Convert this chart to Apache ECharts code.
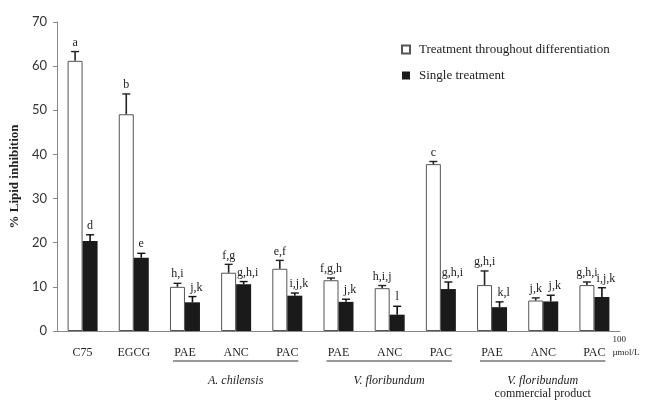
<!DOCTYPE html>
<html><head><meta charset="utf-8">
<script src="https://cdn.jsdelivr.net/npm/echarts@6/dist/echarts.min.js"></script>
<style>html,body{margin:0;padding:0;background:#fff}#c{width:651px;height:400px}</style>
</head><body><div id="c"></div>
<script>
const categories = ['C75','EGCG','PAE','ANC','PAC','PAE','ANC','PAC','PAE','ANC','PAC'];
const throughoutValues = [61.2,49.1,10.0,13.2,14.1,11.5,9.7,37.8,10.4,6.9,10.4];
const throughoutErrors = [2.1,4.6,0.8,1.9,1.9,0.5,0.6,0.6,3.2,0.6,0.7];
const throughoutLetters = ['a','b','h,i','f,g','e,f','f,g,h','h,i,j','c','g,h,i','j,k','g,h,i'];
const singleValues = [20.4,16.6,6.5,10.6,8.0,6.6,3.7,9.5,5.4,6.7,7.7];
const singleErrors = [1.4,1.0,1.3,0.6,0.6,0.6,1.9,1.6,1.2,1.4,2.1];
const singleLetters = ['d','e','j,k','g,h,i','i,j,k','j,k','l','g,h,i','k,l','j,k','i,j,k'];
const seriesNames = ['Treatment throughout differentiation','Single treatment'];
const groupNames = [['A. chilensis'],['V. floribundum'],['V. floribundum','commercial product']];
const groupFirst = [2,5,8];
const groupLast = [4,7,10];
const yMin = 0, yMax = 70, yStep = 10;
const unitLabel = ['100','\u00b5mol/L'];

const SERIF = '"Liberation Serif","DejaVu Serif",serif';
const BARW = 15;
const chart = echarts.init(document.getElementById('c'));

function errSeries(values, errors, letters, sign, color, dx) {
  return {
    type: 'custom',
    z: 5,
    silent: true,
    data: values.map((v, i) => [i, v, errors[i]]),
    renderItem: function (params, api) {
      const i = api.value(0), v = api.value(1), e = api.value(2);
      const letter = letters[params.dataIndex];
      const base = api.coord([i, v]);
      const top = api.coord([i, v + e]);
      const x = base[0] + sign * BARW / 2;
      const shift = letter.length > 1 ? dx : 0;
      return {
        type: 'group',
        children: [
          {type: 'line', shape: {x1: x, y1: base[1], x2: x, y2: top[1]}, style: {stroke: color, lineWidth: 1.6}},
          {type: 'line', shape: {x1: x - 4, y1: top[1], x2: x + 4, y2: top[1]}, style: {stroke: color, lineWidth: 1.4}},
          {type: 'text', style: {text: letter, x: x + shift, y: top[1] - 3, align: 'center', verticalAlign: 'bottom',
            font: '12px ' + SERIF, fill: '#222'}}
        ]
      };
    }
  };
}

const option = {
  backgroundColor: '#fff',
  animation: false,
  grid: {left: 56, right: 31, top: 22, bottom: 69},
  legend: {
    orient: 'vertical', left: 396, top: 38, itemWidth: 8, itemHeight: 8, itemGap: 13,
    data: seriesNames.map(n => ({name: n, icon: 'rect'})),
    textStyle: {fontFamily: SERIF, fontSize: 13, color: '#222', padding: [0, 0, 0, 4]}
  },
  xAxis: {
    type: 'category', data: categories,
    axisLine: {lineStyle: {color: '#888', width: 1}},
    axisTick: {show: false},
    axisLabel: {fontFamily: SERIF, fontSize: 12, color: '#222', margin: 16}
  },
  yAxis: {
    type: 'value', min: yMin, max: yMax, interval: yStep,
    name: '% Lipid inhibition', nameLocation: 'middle', nameGap: 36,
    nameTextStyle: {fontFamily: SERIF, fontWeight: 'bold', fontSize: 13, color: '#222'},
    axisLine: {show: true, lineStyle: {color: '#888', width: 1}},
    axisTick: {show: true, length: 4, lineStyle: {color: '#888'}},
    splitLine: {show: false},
    axisLabel: {fontFamily: 'Lato, "Open Sans", sans-serif', fontSize: 13, color: '#333', margin: 10}
  },
  series: [
    {name: seriesNames[0], type: 'bar', data: throughoutValues, barWidth: BARW, barGap: '0%',
      itemStyle: {color: '#fff', borderColor: '#555', borderWidth: 1}},
    {name: seriesNames[1], type: 'bar', data: singleValues, barWidth: BARW, barGap: '0%',
      itemStyle: {color: '#1a1a1a', borderColor: '#1a1a1a', borderWidth: 0}},
    errSeries(throughoutValues, throughoutErrors, throughoutLetters, -1, '#222', 0),
    errSeries(singleValues, singleErrors, singleLetters, 1, '#111', 4)
  ]
};
chart.setOption(option);

// group underlines and names under the category labels
const gfx = [];
const yAxisBase = chart.convertToPixel({yAxisIndex: 0}, 0);
for (let g = 0; g < groupFirst.length; g++) {
  const x1 = chart.convertToPixel({xAxisIndex: 0}, groupFirst[g]) - 12;
  const x2 = chart.convertToPixel({xAxisIndex: 0}, groupLast[g]) + 11;
  const ly = yAxisBase + 30;
  gfx.push({type: 'line', shape: {x1: x1, y1: ly, x2: x2, y2: ly}, style: {stroke: '#333', lineWidth: 1}, silent: true});
  const names = groupNames[g];
  names.forEach((t, k) => {
    gfx.push({type: 'text', style: {text: t, x: (x1 + x2) / 2, y: ly + 20 + k * 13, align: 'center', verticalAlign: 'middle',
      font: (k === 0 ? 'italic ' : '') + '12px ' + SERIF, fill: '#222'}, silent: true});
  });
}
const xEnd = chart.convertToPixel({xAxisIndex: 0}, categories.length - 1);
unitLabel.forEach((t, k) => {
  gfx.push({type: 'text', style: {text: t, x: xEnd + 18, y: yAxisBase + 9 + k * 13, align: 'left', verticalAlign: 'middle',
    font: '9px ' + SERIF, fill: '#222'}, silent: true});
});
chart.setOption({graphic: gfx});
</script>
</body></html>
